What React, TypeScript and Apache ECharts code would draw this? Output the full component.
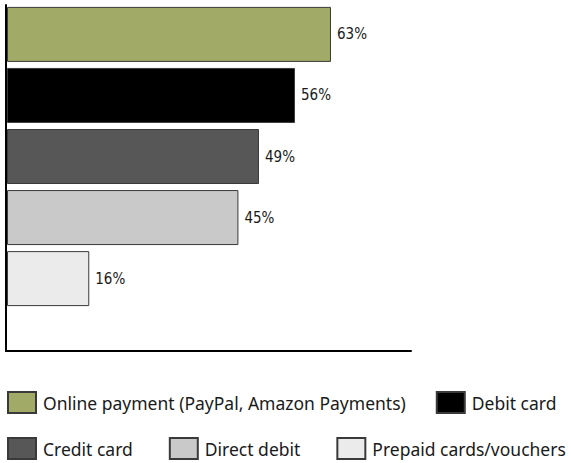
import React, { useEffect, useRef } from "react";
import * as echarts from "echarts";

const seriesNames = [
  "Online payment (PayPal, Amazon Payments)",
  "Debit card",
  "Credit card",
  "Direct debit",
  "Prepaid cards/vouchers",
];
const seriesValues = [63, 56, 49, 45, 16];
const seriesColors = ["#a2aa68", "#000000", "#575757", "#c8c9c8", "#ebebeb"];
const legendRow1 = [seriesNames[0], seriesNames[1]];
const legendRow2 = [seriesNames[2], seriesNames[3], seriesNames[4]];

export default function App() {
  const ref = useRef<HTMLDivElement>(null);
  useEffect(() => {
    if (!ref.current) return;
    const chart = echarts.init(ref.current, undefined, { renderer: "svg" });
    const legendCommon = {
      itemWidth: 28,
      itemHeight: 21,
      padding: 0,
      icon: "rect",
      textStyle: { fontFamily: "Noto Sans", fontSize: 17.5, color: "#1a1a1a", padding: [0, 0, 0, 2] },
    };
    chart.setOption({
      animation: false,
      backgroundColor: "#ffffff",
      grid: [
        { left: 7, top: 5, width: 411.4, height: 303, containLabel: false },
        { left: 6, top: 5, width: 405, height: 346, containLabel: false },
      ],
      xAxis: [
        { type: "value", gridIndex: 0, min: 0, max: 80, show: false },
        {
          type: "value",
          gridIndex: 1,
          min: 0,
          max: 80,
          axisLine: { show: true, lineStyle: { color: "#000", width: 2 } },
          axisTick: { show: false },
          axisLabel: { show: false },
          splitLine: { show: false },
        },
      ],
      yAxis: [
        { type: "category", gridIndex: 0, data: ["all"], inverse: true, show: false },
        {
          type: "category",
          gridIndex: 1,
          data: [""],
          axisLine: { show: true, lineStyle: { color: "#000", width: 2 } },
          axisTick: { show: false },
          axisLabel: { show: false },
          splitLine: { show: false },
        },
      ],
      legend: [
        { ...legendCommon, itemGap: 30, left: 7, top: 391, data: legendRow1 },
        { ...legendCommon, itemGap: 36, left: 7, top: 437, data: legendRow2 },
      ],
      series: seriesNames.map((name, i) => ({
        name,
        type: "bar",
        xAxisIndex: 0,
        yAxisIndex: 0,
        data: [seriesValues[i]],
        barWidth: 55,
        barGap: "11%",
        itemStyle: { color: seriesColors[i], borderColor: "#3a3a3a", borderWidth: 1 },
        label: {
          show: true,
          position: "right",
          distance: 6,
          formatter: "{c}%",
          fontFamily: "'Liberation Sans Narrow', 'DejaVu Sans Condensed', 'Liberation Sans', sans-serif",
          fontSize: 15,
          color: "#1a1a1a",
        },
      })),
    });
    return () => chart.dispose();
  }, []);
  return (
    <div
      ref={ref}
      style={{ position: "fixed", left: 0, top: 0, width: 571, height: 463 }}
    />
  );
}
